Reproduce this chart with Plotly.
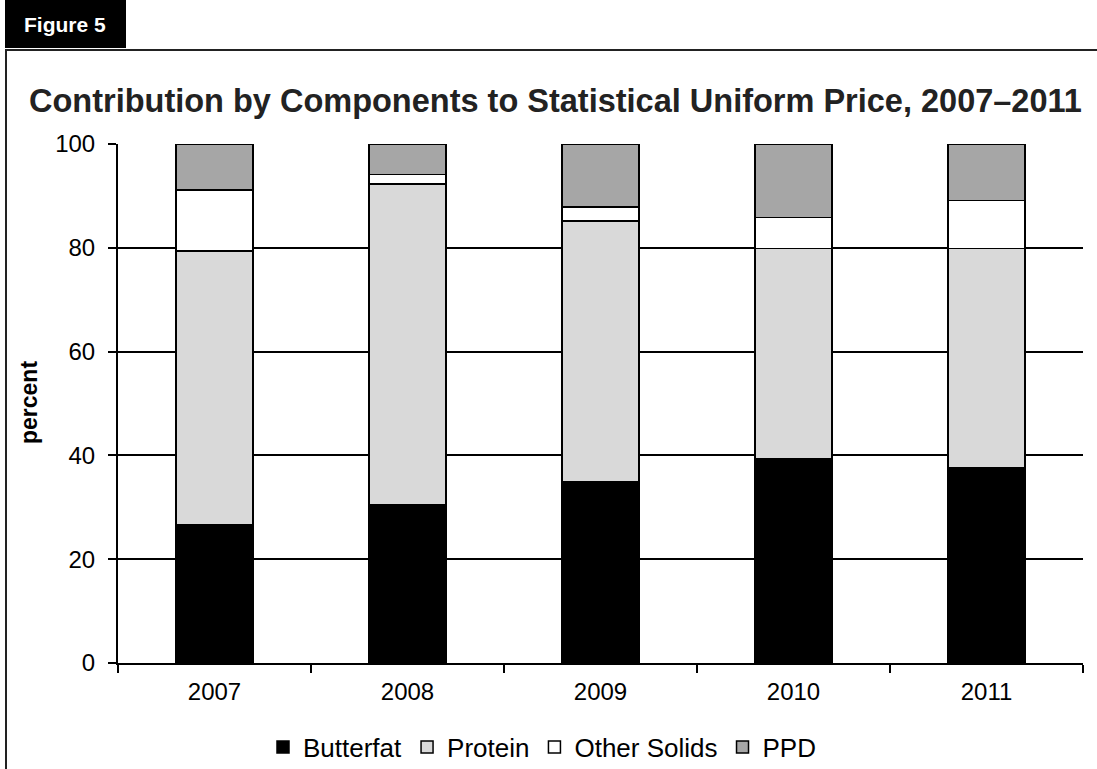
import plotly.graph_objects as go

years = ["2007", "2008", "2009", "2010", "2011"]
butterfat = [26.6, 30.4, 34.9, 39.3, 37.6]
protein = [52.8, 61.9, 50.3, 40.6, 42.3]
other_solids = [11.7, 1.8, 2.7, 5.9, 9.2]
ppd = [8.9, 5.9, 12.1, 14.2, 10.9]

series = [
    ("Butterfat", butterfat, "#000000"),
    ("Protein", protein, "#d9d9d9"),
    ("Other Solids", other_solids, "#ffffff"),
    ("PPD", ppd, "#a6a6a6"),
]

fig = go.Figure()
for name, vals, col in series:
    fig.add_trace(go.Bar(
        x=years, y=vals, name=name,
        marker=dict(color=col, line=dict(color="#000000", width=1.5)),
        width=0.4,
    ))

L, R, T, B = 118, 14, 144, 106
W, H = 1097, 769
pw = W - L - R
ph = H - T - B

def px(x):
    return (x - L) / pw

def py(y):
    return (H - B - y) / ph

FONT = "Liberation Sans, Arial, sans-serif"

fig.update_layout(
    width=W, height=H,
    margin=dict(l=L, r=R, t=T, b=B, autoexpand=False),
    barmode="stack",
    plot_bgcolor="white", paper_bgcolor="white",
    font=dict(family=FONT, size=24, color="#000000"),
    showlegend=True,
    legend=dict(orientation="h", xref="container", yref="container",
                x=263 / W, xanchor="left", y=1 - 747 / H, yanchor="middle",
                font=dict(size=26), itemwidth=30, traceorder="normal",
                tracegroupgap=0),
    xaxis=dict(showline=True, linecolor="#000000", linewidth=2, automargin=False,
               ticks="outside", tickson="boundaries", ticklen=8, tickwidth=2, tickcolor="#000000",
               showgrid=False, tickfont=dict(size=24), ticklabelstandoff=6),
    yaxis=dict(range=[0, 100], dtick=20, showline=True, linecolor="#000000", linewidth=2,
               automargin=False,
               ticks="outside", ticklen=8, tickwidth=2, tickcolor="#000000",
               showgrid=True, gridcolor="#000000", gridwidth=2,
               zeroline=False, tickfont=dict(size=24), ticklabelstandoff=8),
    bargap=0.6,
)

# y-axis title
fig.add_annotation(xref="paper", yref="paper", x=px(29), y=py(403), xanchor="center", yanchor="middle",
                   text="<b>percent</b>", textangle=-90, showarrow=False,
                   font=dict(family=FONT, size=23, color="#000000"))

# frame and header box
fig.add_shape(type="line", xref="paper", yref="paper", x0=px(5), x1=px(1097), y0=py(50), y1=py(50),
              line=dict(color="#222222", width=2))
fig.add_shape(type="line", xref="paper", yref="paper", x0=px(6), x1=px(6), y0=py(50), y1=py(769),
              line=dict(color="#222222", width=2))
fig.add_shape(type="rect", xref="paper", yref="paper", x0=px(5), x1=px(126), y0=py(0), y1=py(48),
              fillcolor="#000000", line=dict(width=0))
fig.add_annotation(xref="paper", yref="paper", x=px(65), y=py(25), xanchor="center", yanchor="middle",
                   text="<b>Figure 5</b>", showarrow=False,
                   font=dict(family=FONT, size=21, color="#ffffff"))
fig.add_annotation(xref="paper", yref="paper", x=px(27), y=py(101), xanchor="left", yanchor="middle",
                   text="<b>Contribution by Components to Statistical Uniform Price, 2007\u20132011</b>",
                   showarrow=False,
                   font=dict(family=FONT, size=32.5, color="#222222"))

fig.write_html("out.html", config={"displayModeBar": False},
               post_script="document.body.style.margin='0';document.body.style.padding='0';")
